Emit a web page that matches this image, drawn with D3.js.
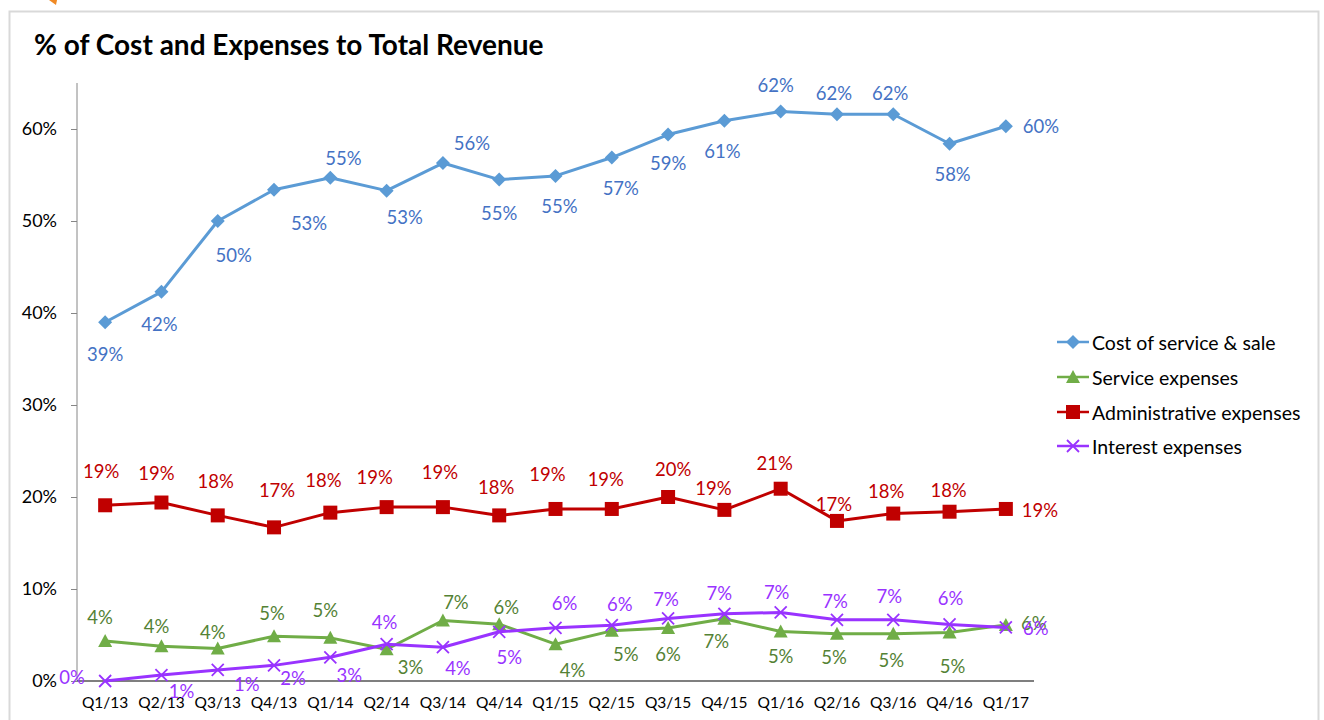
<!DOCTYPE html>
<html><head><meta charset="utf-8">
<script src="https://cdn.jsdelivr.net/npm/d3@7"></script>
<style>body{margin:0;background:#fff;}svg{display:block;font-family:Lato,"Open Sans",sans-serif;}</style>
</head><body>
<svg id="c" width="1324" height="720"></svg>
<script>
const categories = ["Q1/13","Q2/13","Q3/13","Q4/13","Q1/14","Q2/14","Q3/14","Q4/14","Q1/15","Q2/15","Q3/15","Q4/15","Q1/16","Q2/16","Q3/16","Q4/16","Q1/17"];
const costOfServiceSale = [39.0,42.3,50.0,53.4,54.7,53.3,56.3,54.5,54.9,56.9,59.4,60.9,61.9,61.6,61.6,58.4,60.3];
const serviceExpenses = [4.36,3.78,3.53,4.87,4.69,3.45,6.58,6.18,4.0,5.45,5.75,6.76,5.38,5.13,5.13,5.27,6.1];
const adminExpenses = [19.1,19.4,18.0,16.7,18.3,18.9,18.9,18.0,18.7,18.7,20.0,18.6,20.9,17.4,18.2,18.4,18.7];
const interestExpenses = [0.0,0.65,1.2,1.7,2.58,4.0,3.67,5.35,5.78,6.07,6.8,7.3,7.45,6.65,6.65,6.15,5.82];
const yTicks = [0,10,20,30,40,50,60];

// label placement offsets (style, not data)
const costLabelOff = [[0,32],[-2,32],[16,34],[35,33],[13,-20],[18,26],[29,-20],[0,33],[4,30],[9,30],[0,28],[-2,30],[-5,-27],[-3,-21],[-3,-21],[3,30],[35,0]];
const serviceLabelOff = [[-5,-24],[-5,-20],[-5,-17],[-2,-23],[-5,-28],[24,18],[13,-18],[7,-17],[17,26],[14,23],[0,26],[-8,22],[0,24],[-3,23],[-2,26],[3,33],[28,-2]];
const adminLabelOff = [[-4,-34],[-5,-30],[-2,-34],[3,-37],[-7,-33],[-12,-30],[-3,-35],[-3,-28],[-8,-35],[-6,-30],[5,-28],[-11,-22],[-6,-26],[-3,-17],[-7,-23],[-1,-22],[34,1]];
const interestLabelOff = [[-33,-4],[20,16],[29,14],[19,13],[19,18],[-2,-22],[15,21],[10,25],[9,-25],[8,-21],[-2,-19],[-5,-21],[-4,-20],[-2,-19],[-4,-24],[1,-26],[30,1]];

const series = [
  {name:"Cost of service & sale", values:costOfServiceSale, color:"#5B9BD5", text:"#4472C4", marker:"diamond", off:costLabelOff},
  {name:"Service expenses", values:serviceExpenses, color:"#70AD47", text:"#548235", marker:"triangle", off:serviceLabelOff},
  {name:"Administrative expenses", values:adminExpenses, color:"#C00000", text:"#C00000", marker:"square", off:adminLabelOff},
  {name:"Interest expenses", values:interestExpenses, color:"#9933FF", text:"#9933FF", marker:"x", off:interestLabelOff}
];

const svg = d3.select("#c");
// frame
svg.append("rect").attr("x",9.5).attr("y",11.5).attr("width",1309).attr("height",720)
  .attr("fill","#fff").attr("stroke","#D9D9D9").attr("stroke-width",2);
// orange fragment top-left
svg.append("path").attr("d","M49,0 L57,0 L56,5 Z").attr("fill","#F08A24");

svg.append("text").attr("x",34).attr("y",55).attr("font-size",28).attr("font-weight","bold")
  .attr("fill","#000").text("% of Cost and Expenses to Total Revenue");

const x = d3.scaleBand().domain(categories).range([77,1034]).padding(0);
const y = d3.scaleLinear().domain([0,65]).range([681,83]);
const cx = c => x(c) + x.bandwidth()/2;

// y axis
const yAxis = d3.axisLeft(y).tickValues(yTicks).tickFormat(d=>d+"%").tickSize(6).tickPadding(5);
const gy = svg.append("g").attr("transform","translate(77,0)").call(yAxis);
gy.select(".domain").attr("stroke","#868686").attr("d","M0,83V681");
gy.selectAll(".tick line").attr("stroke","#868686");
gy.selectAll(".tick text").attr("font-size",18).attr("fill","#000").attr("font-family","Lato,sans-serif").attr("x",-20);

// x axis
const xAxis = d3.axisBottom(x).tickSize(0).tickPadding(16);
const gx = svg.append("g").attr("transform","translate(0,681)").call(xAxis);
gx.select(".domain").attr("stroke","#000").attr("stroke-width",1.2).attr("d","M77,0H1034");
gx.selectAll(".tick text").attr("font-size",15.5).attr("fill","#000").attr("font-family","Lato,sans-serif");

function drawMarker(g, type, color, px, py){
  if(type==="diamond"){
    g.append("path").attr("d",`M${px},${py-7}L${px+7},${py}L${px},${py+7}L${px-7},${py}Z`).attr("fill",color);
  } else if(type==="square"){
    g.append("rect").attr("x",px-7).attr("y",py-7).attr("width",14).attr("height",14).attr("fill",color);
  } else if(type==="triangle"){
    g.append("path").attr("d",`M${px},${py-7}L${px+7},${py+6}L${px-7},${py+6}Z`).attr("fill",color);
  } else {
    g.append("path").attr("d",`M${px-6},${py-6}L${px+6},${py+6}M${px+6},${py-6}L${px-6},${py+6}`)
      .attr("stroke",color).attr("stroke-width",1.8).attr("fill","none");
  }
}

const line = d3.line().x((d,i)=>cx(categories[i])).y(d=>y(d));
series.forEach(s=>{
  const g = svg.append("g");
  g.append("path").datum(s.values).attr("d",line).attr("fill","none")
    .attr("stroke",s.color).attr("stroke-width",3).attr("stroke-linejoin","round");
  s.values.forEach((v,i)=>drawMarker(g,s.marker,s.color,cx(categories[i]),y(v)));
});
// data labels
series.forEach(s=>{
  const g = svg.append("g");
  s.values.forEach((v,i)=>{
    const o = s.off[i];
    g.append("text").attr("x",cx(categories[i])+o[0]).attr("y",y(v)+o[1])
      .attr("text-anchor","middle").attr("dominant-baseline","central")
      .attr("font-size",18.5).attr("fill",s.text).text(Math.round(v)+"%");
  });
});

// legend
const leg = svg.append("g");
const legY = [342,377,412,446];
series.forEach((s,i)=>{
  const yy = legY[i];
  leg.append("line").attr("x1",1057).attr("x2",1089).attr("y1",yy).attr("y2",yy)
    .attr("stroke",s.color).attr("stroke-width",2.5);
  drawMarker(leg,s.marker,s.color,1073,yy);
  leg.append("text").attr("x",1092).attr("y",yy).attr("dominant-baseline","central")
    .attr("font-size",19.5).attr("fill","#000").text(s.name);
});
</script>
</body></html>
